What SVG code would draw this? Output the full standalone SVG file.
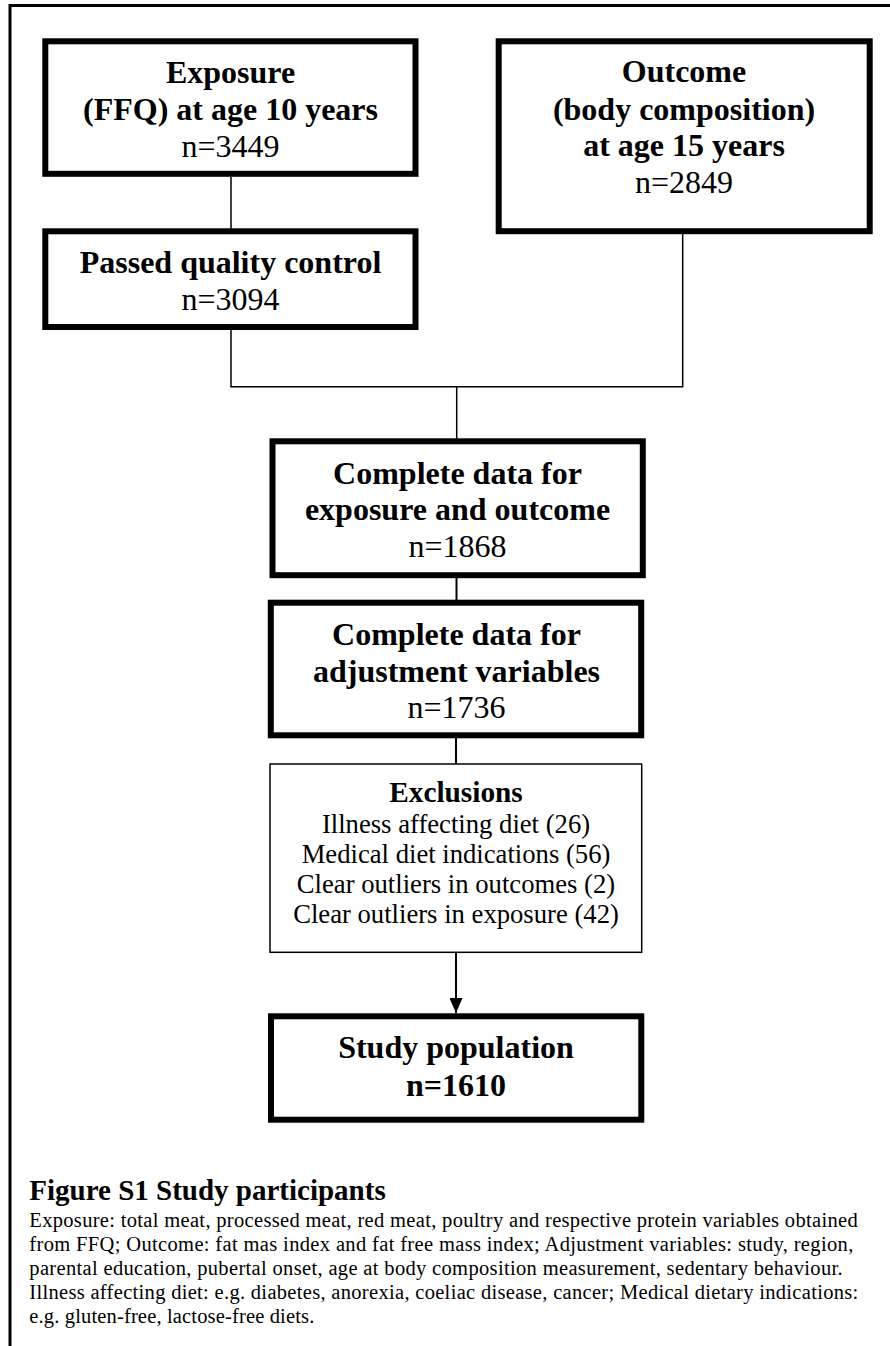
<svg xmlns="http://www.w3.org/2000/svg" width="890" height="1346" viewBox="0 0 890 1346">
<style>
text{font-family:"Liberation Serif","Times New Roman",serif;fill:#000}
.b{font-weight:bold}
.t{font-size:32px}
.s{font-size:26.67px}
.c{font-size:20.5px}
.box{fill:#fff;stroke:#000;stroke-width:6}
.thin{fill:#fff;stroke:#000;stroke-width:1.5}
.ln{fill:none;stroke:#000;stroke-width:1.5}
.ln2{fill:none;stroke:#000;stroke-width:2}
</style>
<defs>
<marker id="ah" markerWidth="15" markerHeight="13" refX="15" refY="6.5" orient="auto" markerUnits="userSpaceOnUse">
<path d="M0,0 L15,6.5 L0,13 Z" fill="#000"/>
</marker>
</defs>
<rect width="890" height="1346" fill="#fff"/>
<g id="frame">
<path d="M10,1346 V5.5 H890" fill="none" stroke="#000" stroke-width="3"/>
</g>
<g id="connectors">
<path class="ln" d="M231,177 V231"/>
<path class="ln" d="M231,330 V386.7 H682.7 V234"/>
<path class="ln" d="M456.7,386.7 V440"/>
<path class="ln2" d="M456.5,578 V600"/>
<path class="ln2" d="M456,738 V764"/>
<path class="ln2" d="M456,952.5 V1013" marker-end="url(#ah)"/>
</g>
<g id="exposure">
<rect class="box" x="45.3" y="41.3" width="370.2" height="132.5"/>
<text class="t b" x="230.5" y="83.3" text-anchor="middle">Exposure</text>
<text class="t b" x="230.5" y="120" text-anchor="middle">(FFQ) at age 10 years</text>
<text class="t" x="230.5" y="156.7" text-anchor="middle">n=3449</text>
</g>
<g id="outcome">
<rect class="box" x="498.7" y="41.3" width="371" height="189.9"/>
<text class="t b" x="684" y="82.3" text-anchor="middle">Outcome</text>
<text class="t b" x="684" y="120" text-anchor="middle">(body composition)</text>
<text class="t b" x="684" y="156" text-anchor="middle">at age 15 years</text>
<text class="t" x="684" y="192.7" text-anchor="middle">n=2849</text>
</g>
<g id="quality">
<rect class="box" x="45.3" y="231.3" width="370.2" height="95.7"/>
<text class="t b" x="230.5" y="273.3" text-anchor="middle">Passed quality control</text>
<text class="t" x="230.5" y="310" text-anchor="middle">n=3094</text>
</g>
<g id="complete-exposure-outcome">
<rect class="box" x="272.5" y="441.3" width="370.3" height="133.9"/>
<text class="t b" x="457.5" y="484" text-anchor="middle">Complete data for</text>
<text class="t b" x="457.5" y="520" text-anchor="middle">exposure and outcome</text>
<text class="t" x="457.5" y="556.7" text-anchor="middle">n=1868</text>
</g>
<g id="complete-adjustment">
<rect class="box" x="270.8" y="602.7" width="370.4" height="132.6"/>
<text class="t b" x="456.5" y="645" text-anchor="middle">Complete data for</text>
<text class="t b" x="456.5" y="681.7" text-anchor="middle">adjustment variables</text>
<text class="t" x="456.5" y="718.3" text-anchor="middle">n=1736</text>
</g>
<g id="exclusions">
<rect class="thin" x="270" y="764" width="371.7" height="188.3"/>
<text class="b" x="456" y="801.7" text-anchor="middle" font-size="29.3">Exclusions</text>
<text class="s" x="456" y="832.7" text-anchor="middle">Illness affecting diet (26)</text>
<text class="s" x="456" y="862.7" text-anchor="middle">Medical diet indications (56)</text>
<text class="s" x="456" y="893.3" text-anchor="middle">Clear outliers in outcomes (2)</text>
<text class="s" x="456" y="923.3" text-anchor="middle">Clear outliers in exposure (42)</text>
</g>
<g id="study-population">
<rect class="box" x="271" y="1016.3" width="370.3" height="103.4"/>
<text class="t b" x="456" y="1058.3" text-anchor="middle">Study population</text>
<text class="t b" x="456" y="1096" text-anchor="middle">n=1610</text>
</g>
<g id="caption">
<text class="b" x="29.3" y="1200" font-size="29">Figure S1 Study participants</text>
<text class="c" x="29.3" y="1226.7" textLength="828.4" lengthAdjust="spacing">Exposure: total meat, processed meat, red meat, poultry and respective protein variables obtained</text>
<text class="c" x="29.3" y="1250.7" textLength="824" lengthAdjust="spacing">from FFQ; Outcome: fat mas index and fat free mass index; Adjustment variables: study, region,</text>
<text class="c" x="29.3" y="1275" textLength="813.4" lengthAdjust="spacing">parental education, pubertal onset, age at body composition measurement, sedentary behaviour.</text>
<text class="c" x="29.3" y="1299" textLength="829" lengthAdjust="spacing">Illness affecting diet: e.g. diabetes, anorexia, coeliac disease, cancer; Medical dietary indications:</text>
<text class="c" x="29.3" y="1322.7" textLength="285" lengthAdjust="spacing">e.g. gluten-free, lactose-free diets.</text>
</g>
</svg>
